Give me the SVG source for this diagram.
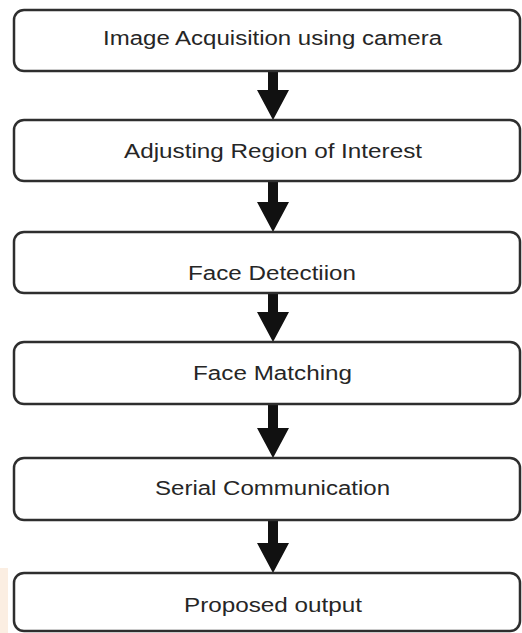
<svg xmlns="http://www.w3.org/2000/svg" width="522" height="633" viewBox="0 0 522 633">
<style>
.box{fill:#ffffff;stroke:#2e2e2e;stroke-width:2.5}
.lbl{font-family:"Liberation Sans",Arial,sans-serif;font-size:20px;fill:#262626}
.arr{fill:#111111}
</style>
<rect x="0" y="0" width="522" height="633" fill="#ffffff"/>
<rect x="0" y="568" width="8" height="65" fill="#fbeee2"/>
<g id="connectors">
<path class="arr" d="M268 71 H278 V90 H289 L273 120 L257 90 H268 Z"/>
<path class="arr" d="M268 181 H278 V202 H289 L273 232 L257 202 H268 Z"/>
<path class="arr" d="M268 293 H278 V312 H289 L273 342 L257 312 H268 Z"/>
<path class="arr" d="M268 404 H278 V428 H289 L273 458 L257 428 H268 Z"/>
<path class="arr" d="M268 520 H278 V543 H289 L273 573 L257 543 H268 Z"/>
</g>
<g id="n1"><rect class="box" x="14" y="10" width="506" height="61" rx="10"/><text class="lbl" x="103" y="45" textLength="339" lengthAdjust="spacingAndGlyphs">Image Acquisition using camera</text></g>
<g id="n2"><rect class="box" x="14" y="120" width="506" height="61" rx="10"/><text class="lbl" x="124" y="158" textLength="298" lengthAdjust="spacingAndGlyphs">Adjusting Region of Interest</text></g>
<g id="n3"><rect class="box" x="14" y="232" width="506" height="61" rx="10"/><text class="lbl" x="188" y="280" textLength="168" lengthAdjust="spacingAndGlyphs">Face Detectiion</text></g>
<g id="n4"><rect class="box" x="14" y="342" width="506" height="62" rx="10"/><text class="lbl" x="193" y="380" textLength="159" lengthAdjust="spacingAndGlyphs">Face Matching</text></g>
<g id="n5"><rect class="box" x="14" y="458" width="506" height="62" rx="10"/><text class="lbl" x="155" y="495" textLength="235" lengthAdjust="spacingAndGlyphs">Serial Communication</text></g>
<g id="n6"><rect class="box" x="14" y="573" width="506" height="58" rx="10"/><text class="lbl" x="184" y="612" textLength="178" lengthAdjust="spacingAndGlyphs">Proposed output</text></g>
</svg>
